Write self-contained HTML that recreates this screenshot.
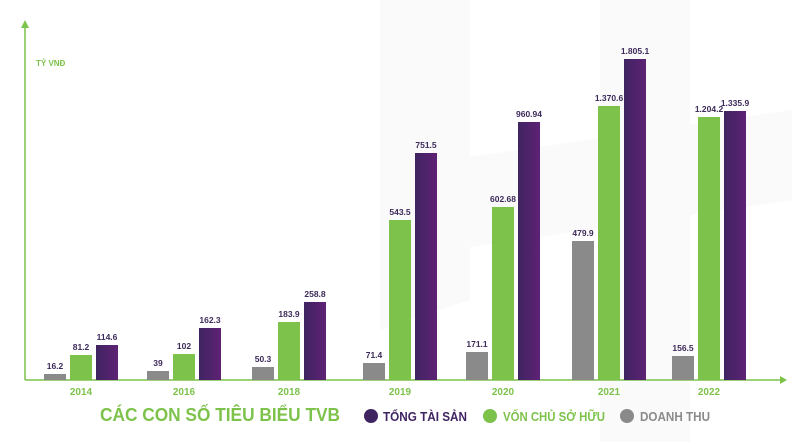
<!DOCTYPE html>
<html><head><meta charset="utf-8"><style>
body{margin:0;background:#fff;width:792px;height:442px;overflow:hidden;font-family:"Liberation Sans","Noto Sans CJK SC",sans-serif}
svg{display:block}
</style></head><body>
<svg id="chart" width="792" height="442" viewBox="0 0 792 442">
<defs>
<linearGradient id="pg" x1="0" x2="1"><stop offset="0" stop-color="#3f2461"/><stop offset="1" stop-color="#5e2275"/></linearGradient>
</defs>
<g fill="#fafafb">
<polygon points="380,0 470,0 470,300 380,330"/>
<polygon points="600,0 690,0 690,442 600,442"/>
<polygon points="380,170 792,110 792,200 380,260"/>
</g>
<g>
<line x1="25" y1="28" x2="25" y2="380" stroke="#7dc24b" stroke-width="1.5"/>
<polygon points="21,28 29,28 25,20" fill="#7dc24b"/>
</g>
<text x="36" y="66" font-size="8" font-weight="bold" fill="#7dc24b">TỶ VNĐ</text>
<g>
<line x1="25" y1="380" x2="780" y2="380" stroke="#7dc24b" stroke-width="1.5"/>
<polygon points="780,376 780,384 787,380" fill="#7dc24b"/>
</g>
<g id="bars"></g>
<text x="100" y="421" font-size="18" font-weight="bold" fill="#7dc24b" textLength="240" lengthAdjust="spacingAndGlyphs">CÁC CON SỐ TIÊU BIỂU TVB</text>
<g font-size="12.5" font-weight="bold">
<g><circle cx="371" cy="416" r="7" fill="#3f2461"/><text x="383" y="421" fill="#3f2461" textLength="84" lengthAdjust="spacingAndGlyphs">TỔNG TÀI SẢN</text></g>
<g><circle cx="490" cy="416" r="7" fill="#7dc24b"/><text x="503" y="421" fill="#7dc24b" textLength="102" lengthAdjust="spacingAndGlyphs">VỐN CHỦ SỞ HỮU</text></g>
<g><circle cx="627" cy="416" r="7" fill="#8a8a8a"/><text x="640" y="421" fill="#8a8a8a" textLength="70" lengthAdjust="spacingAndGlyphs">DOANH THU</text></g>
</g>
</svg>
<script>
const years=["2014","2016","2018","2019","2020","2021","2022"];
const revenue=[16.2,39,50.3,71.4,171.1,479.9,156.5];
const equity=[81.2,102,183.9,543.5,602.68,1370.6,1204.2];
const assets=[114.6,162.3,258.8,751.5,960.94,1805.1,1335.9];
const revenueLabels=["16.2","39","50.3","71.4","171.1","479.9","156.5"];
const equityLabels=["81.2","102","183.9","543.5","602.68","1.370.6","1.204.2"];
const assetsLabels=["114.6","162.3","258.8","751.5","960.94","1.805.1","1.335.9"];
// piecewise axis scales (value -> bar height) matching the reference's non-linear drawing
const revScaleV=[0,16.2,39,50.3,71.4,156.5,171.1,479.9,2000];
const revScaleH=[0,6,9,13,17,24,28,139,370];
const balScaleV=[0,81.2,102,114.6,162.3,183.9,258.8,543.5,602.68,751.5,960.94,1204.2,1335.9,1370.6,1805.1,2200];
const balScaleH=[0,25,26,35,52,58,78,160,173,227,258,263,269,274,321,370];
function interp(v,V,H){
 for(let i=1;i<V.length;i++){if(v<=V[i]){const t=(v-V[i-1])/(V[i]-V[i-1]);return H[i-1]+t*(H[i]-H[i-1]);}}
 return H[H.length-1];
}
function yRev(v){return interp(v,revScaleV,revScaleH);}
function yBal(v){return interp(v,balScaleV,balScaleH);}
const centers=[81,184,289,400,503,609,709];
function xC(i){return centers[i];}
const base=380,bw=22,NS="http://www.w3.org/2000/svg";
const g=document.getElementById('bars');
const series=[
 {vals:revenue,labs:revenueLabels,off:-26,fill:"#8a8a8a",name:"revenue",sc:yRev},
 {vals:equity,labs:equityLabels,off:0,fill:"#7dc24b",name:"equity",sc:yBal},
 {vals:assets,labs:assetsLabels,off:26,fill:"url(#pg)",name:"assets",sc:yBal}];
years.forEach((y,i)=>{
 series.forEach(s=>{
  const h=s.sc(s.vals[i]),cx=xC(i)+s.off;
  const r=document.createElementNS(NS,'rect');
  r.setAttribute('x',cx-bw/2);r.setAttribute('y',base-h);r.setAttribute('width',bw);r.setAttribute('height',h);r.setAttribute('fill',s.fill);
  
  
  g.appendChild(r);
  const t=document.createElementNS(NS,'text');
  t.setAttribute('x',cx);t.setAttribute('y',base-h-5);t.setAttribute('text-anchor','middle');
  t.setAttribute('font-size','8.5');t.setAttribute('font-weight','bold');t.setAttribute('fill','#3d2a5a');
  t.textContent=s.labs[i];
  
  
  g.appendChild(t);
 });
 const yl=document.createElementNS(NS,'text');
 yl.setAttribute('x',xC(i));yl.setAttribute('y',395);yl.setAttribute('text-anchor','middle');
 yl.setAttribute('font-size','10');yl.setAttribute('font-weight','bold');yl.setAttribute('fill','#7dc24b');
 yl.textContent=y;
 
 
 g.appendChild(yl);
});
</script>
</body></html>
